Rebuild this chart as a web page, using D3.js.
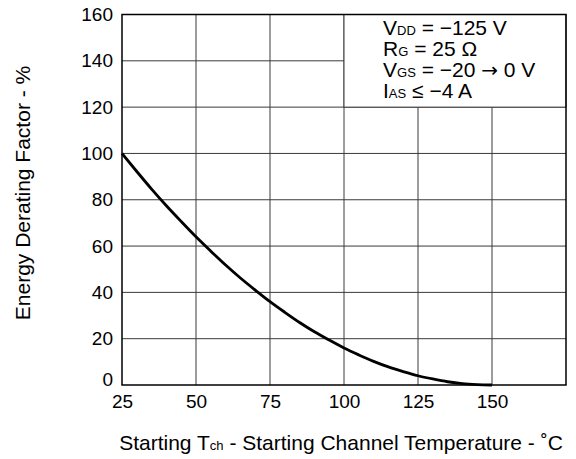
<!DOCTYPE html>
<html>
<head>
<meta charset="utf-8">
<script src="https://cdn.jsdelivr.net/npm/d3@7"></script>
<style>
  html, body { margin: 0; padding: 0; background: #fff; }
  svg { display: block; font-family: "Liberation Sans", Arial, Helvetica, sans-serif; }
</style>
</head>
<body>
<svg id="chart" width="576" height="459"></svg>
<script>
// Starting channel temperature (°C) and energy derating factor (%)
const tempC = [25, 30, 35, 40, 45, 50, 55, 60, 65, 70, 75, 80, 85, 90, 95, 100, 105, 110, 115, 120, 125, 130, 135, 140, 145, 150];
const derating = [100, 92.2, 84.6, 77.4, 70.6, 64, 57.8, 51.8, 46.2, 41, 36, 31.4, 27, 23, 19.4, 16, 13, 10.2, 7.8, 5.8, 4, 2.6, 1.4, 0.6, 0.2, 0];

const xTicks = [25, 50, 75, 100, 125, 150];
const yTicks = [0, 20, 40, 60, 80, 100, 120, 140, 160];

// Test conditions shown in the upper-right corner; each entry is a list of
// [text, style] runs: "m" main size, "s" subscript size, "a" arrow glyph
const condRuns = [
  [["V", "m"], ["DD", "s"], [" = \u2212125 V", "m"]],
  [["R", "m"], ["G", "s"], [" = 25 \u03A9", "m"]],
  [["V", "m"], ["GS", "s"], [" = \u221220 ", "m"], ["\u2192", "a"], [" 0 V", "m"]],
  [["I", "m"], ["AS", "s"], [" \u2264 \u22124 A", "m"]]
];

const svg = d3.select("#chart");
const plotL = 122, plotR = 566, plotT = 14.5, plotB = 385;

const x = d3.scaleLinear().domain([25, 175]).range([plotL, plotR]);
const y = d3.scaleLinear().domain([0, 160]).range([plotB, plotT]);

const gridColor = "#3a3a3a";
const tickFs = 19;
const titleFs = 21;

// grid lines
svg.append("g").selectAll("line").data(xTicks.filter(d => d > 25))
  .join("line")
  .attr("x1", d => x(d)).attr("x2", d => x(d))
  .attr("y1", plotT).attr("y2", plotB)
  .attr("stroke", gridColor).attr("stroke-width", 1);
svg.append("g").selectAll("line").data(yTicks.filter(d => d > 0 && d < 160))
  .join("line")
  .attr("x1", plotL).attr("x2", plotR)
  .attr("y1", d => y(d)).attr("y2", d => y(d))
  .attr("stroke", gridColor).attr("stroke-width", 1);

// conditions panel masks the grid in the upper-right cell block
svg.append("rect")
  .attr("x", x(100)).attr("y", y(160))
  .attr("width", x(175) - x(100)).attr("height", y(120) - y(160))
  .attr("fill", "#fff").attr("stroke", gridColor).attr("stroke-width", 1);

// curve
const line = d3.line()
  .x((d, i) => x(tempC[i]))
  .y(d => y(d))
  .curve(d3.curveMonotoneX);
svg.append("path")
  .datum(derating)
  .attr("d", line)
  .attr("fill", "none")
  .attr("stroke", "#000")
  .attr("stroke-width", 2.8)
  .attr("stroke-linejoin", "round");

// frame
svg.append("rect")
  .attr("x", plotL).attr("y", plotT)
  .attr("width", plotR - plotL).attr("height", plotB - plotT)
  .attr("fill", "none").attr("stroke", "#000").attr("stroke-width", 1.5);

// axes labels (no tick marks)
const xAxis = d3.axisBottom(x).tickValues(xTicks).tickSize(0).tickPadding(9.5);
const gx = svg.append("g").attr("transform", `translate(0,${plotB})`).call(xAxis);
gx.select(".domain").remove();
gx.selectAll("text").attr("font-size", tickFs).attr("fill", "#000")
  .attr("font-family", "Liberation Sans, Arial, sans-serif");

const yAxis = d3.axisLeft(y).tickValues(yTicks).tickSize(0).tickPadding(9);
const gy = svg.append("g").attr("transform", `translate(${plotL},0)`).call(yAxis);
gy.select(".domain").remove();
gy.selectAll("text").attr("font-size", tickFs).attr("fill", "#000")
  .attr("font-family", "Liberation Sans, Arial, sans-serif");
// lift the zero label clear of the x-axis labels
gy.selectAll(".tick").filter(d => d === 0).select("text").attr("dy", "0em");

// conditions text
const cond = svg.append("g").attr("font-size", 21).attr("fill", "#000");
condRuns.forEach((runs, i) => {
  const t = cond.append("text")
    .attr("x", 383)
    .attr("y", 35 + i * 21);
  runs.forEach(([txt, kind]) => {
    const s = t.append("tspan").text(txt);
    if (kind === "s") s.attr("font-size", 13);
    if (kind === "a") s.attr("font-family", "DejaVu Sans").attr("font-size", 20);
  });
});

// axis titles
const xt = svg.append("text")
  .attr("x", 341).attr("y", 450)
  .attr("text-anchor", "middle")
  .attr("font-size", titleFs).attr("fill", "#000");
xt.append("tspan").text("Starting T");
xt.append("tspan").attr("font-size", 13).text("ch");
xt.append("tspan").text(" - Starting Channel Temperature - \u02DAC");

svg.append("text")
  .attr("transform", "translate(30,193) rotate(-90)")
  .attr("text-anchor", "middle")
  .attr("font-size", titleFs).attr("fill", "#000")
  .text("Energy Derating Factor - %");
</script>
</body>
</html>
